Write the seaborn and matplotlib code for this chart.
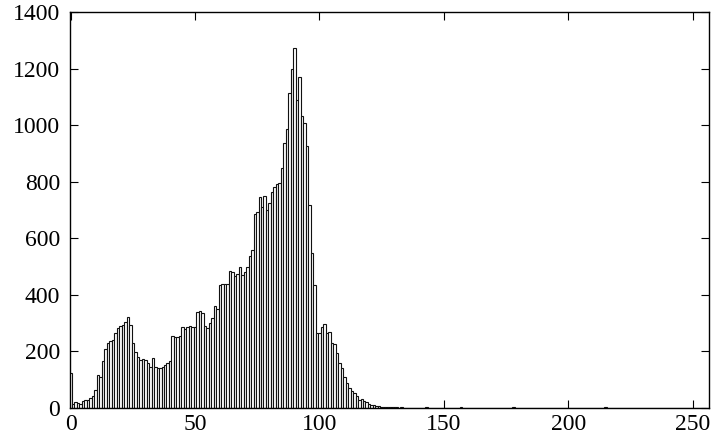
import numpy as np
import pandas as pd
import seaborn as sns
import matplotlib.pyplot as plt

# Gray-level histogram (pixel counts per level 0..255)
levels = list(range(256))
counts = [
    124, 15, 22, 18, 14, 26, 28, 28, 35, 42, 62, 116, 108, 165, 210, 230,
    238, 242, 264, 282, 290, 294, 305, 323, 294, 229, 199, 181, 170, 172, 170, 158,
    146, 176, 146, 140, 140, 146, 152, 158, 165, 254, 250, 250, 255, 287, 280, 285,
    290, 285, 285, 340, 344, 335, 290, 283, 300, 320, 360, 350, 435, 440, 438, 438,
    485, 480, 466, 475, 498, 470, 480, 498, 537, 558, 685, 694, 745, 711, 749, 700,
    724, 764, 782, 791, 795, 848, 936, 986, 1114, 1198, 1272, 1088, 1171, 1032, 1010, 928,
    719, 549, 435, 264, 266, 288, 297, 266, 268, 231, 228, 194, 159, 141, 111, 88,
    71, 61, 54, 42, 28, 32, 24, 22, 15, 12, 10, 8, 6, 5, 4, 3,
    3, 2, 2, 3, 1, 2, 1, 1, 0, 0, 1, 0, 0, 0, 0, 2,
    0, 0, 0, 1, 0, 0, 0, 0, 1, 0, 0, 0, 0, 2, 0, 0,
    0, 0, 1, 0, 0, 0, 1, 0, 0, 0, 0, 1, 0, 0, 0, 0,
    0, 0, 2, 0, 0, 0, 0, 1, 0, 0, 0, 0, 1, 0, 0, 0,
    0, 0, 1, 0, 0, 0, 0, 0, 0, 0, 0, 0, 0, 0, 0, 0,
    0, 0, 0, 0, 0, 0, 0, 4, 0, 0, 0, 0, 0, 0, 0, 0,
    0, 0, 0, 0, 0, 0, 0, 0, 0, 0, 0, 0, 0, 0, 0, 0,
    0, 0, 0, 0, 0, 0, 0, 0, 0, 0, 0, 0, 0, 0, 0, 0,
]
x_ticks = [0, 50, 100, 150, 200, 250]
y_ticks = [0, 200, 400, 600, 800, 1000, 1200, 1400]

hist_df = pd.DataFrame({'level': levels, 'count': counts})

sns.set_style('ticks')
plt.rcParams['font.family'] = ['Liberation Serif', 'DejaVu Serif']

fig = plt.figure(figsize=(7.2, 4.34), dpi=100)
ax = fig.add_axes([0.0972, 0.0599, 0.8875, 0.9118])

sns.histplot(data=hist_df, x='level', weights='count', bins=256,
             binrange=(-0.5, 255.5), color='white', edgecolor='#111111',
             linewidth=0.8, alpha=1, ax=ax)

ax.set_xlim(-0.3, 256.6)
ax.set_ylim(0, 1400)
ax.set_xticks(x_ticks)
ax.set_yticks(y_ticks)
ax.set_xlabel('')
ax.set_ylabel('')
for side in ['top', 'right', 'left', 'bottom']:
    ax.spines[side].set_visible(True)
    ax.spines[side].set_color('black')
    ax.spines[side].set_linewidth(1.0)
ax.tick_params(direction='in', length=6, width=0.8, top=True, right=True,
               labelsize=17, colors='black')
ax.tick_params(axis='y', pad=7)
ax.tick_params(axis='x', pad=4)

fig.savefig('out.png', dpi=100)
